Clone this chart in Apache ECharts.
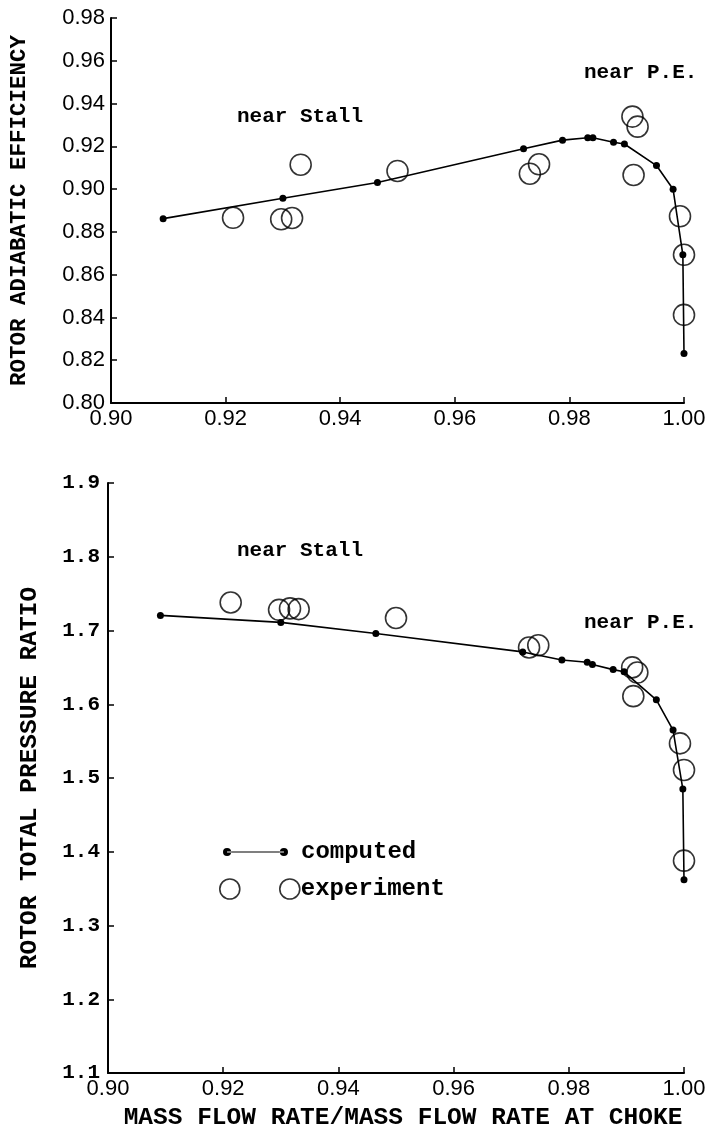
<!DOCTYPE html>
<html>
<head>
<meta charset="utf-8">
<script src="https://cdn.jsdelivr.net/npm/echarts@6/dist/echarts.min.js"></script>
<style>
html,body{margin:0;padding:0;background:#fff;}
#chart{width:713px;height:1135px;}
</style>
</head>
<body>
<div id="chart"></div>
<script>
// ---- data ----
const massFlowComputed   = [0.9091, 0.9300, 0.9465, 0.9720, 0.9788, 0.9832, 0.9841, 0.9877, 0.9896, 0.9952, 0.9981, 0.9998, 1.0000];
const efficiencyComputed = [0.8862, 0.8957, 0.9031, 0.9189, 0.9229, 0.9240, 0.9240, 0.9219, 0.9211, 0.9110, 0.8999, 0.8693, 0.8231];
const pressureComputed   = [1.7205, 1.711, 1.696, 1.671, 1.660, 1.657, 1.654, 1.647, 1.644, 1.606, 1.565, 1.485, 1.362];

const massFlowExperiment   = [0.9213, 0.9297, 0.9316, 0.9331, 0.9500, 0.9731, 0.9747, 0.9910, 0.9919, 0.9912, 0.9993, 1.0000, 1.0000];
const efficiencyExperiment = [0.8866, 0.8859, 0.8865, 0.9114, 0.9085, 0.9072, 0.9116, 0.9339, 0.9292, 0.9066, 0.8873, 0.8693, 0.8412];
const pressureExperiment   = [1.738, 1.728, 1.730, 1.729, 1.717, 1.677, 1.680, 1.650, 1.643, 1.611, 1.547, 1.511, 1.388];

const xTickLabels = ['0.90', '0.92', '0.94', '0.96', '0.98', '1.00'];
const effTickLabels = ['0.80', '0.82', '0.84', '0.86', '0.88', '0.90', '0.92', '0.94', '0.96', '0.98'];
const prTickLabels = ['1.1', '1.2', '1.3', '1.4', '1.5', '1.6', '1.7', '1.8', '1.9'];

const xTitle = 'MASS FLOW RATE/MASS FLOW RATE AT CHOKE';
const effTitle = 'ROTOR ADIABATIC EFFICIENCY';
const prTitle = 'ROTOR TOTAL PRESSURE RATIO';
const nameComputed = 'computed';
const nameExperiment = 'experiment';
const noteStall = 'near Stall';
const notePE = 'near P.E.';

// ---- helpers ----
const zip = (a, b) => a.map((v, i) => [v, b[i]]);
const lookup = (labels, min, step) => v => {
  const i = Math.round((v - min) / step);
  return labels[i] !== undefined ? labels[i] : '';
};
const SANS = 'Liberation Sans';
const MONO = 'Liberation Mono';

const axisLine = { lineStyle: { color: '#000', width: 2 } };
const axisTick = { inside: true, length: 6, lineStyle: { color: '#000', width: 1.5 } };

function xAxis(gridIndex, withName) {
  const ax = {
    type: 'value', gridIndex, min: 0.90, max: 1.00, interval: 0.02,
    axisLine, axisTick, splitLine: { show: false },
    axisLabel: { color: '#000', fontFamily: SANS, fontSize: 22, margin: 5,
                 formatter: lookup(xTickLabels, 0.90, 0.02) }
  };
  if (withName) {
    Object.assign(ax, { name: xTitle, nameLocation: 'middle', nameGap: 31,
      nameTextStyle: { color: '#000', fontFamily: MONO, fontWeight: 'bold', fontSize: 24.5,
                       padding: [0, 0, 0, 14] } });
  }
  return ax;
}

const computedStyle = {
  type: 'line', symbol: 'circle', symbolSize: 7,
  itemStyle: { color: '#000' }, lineStyle: { color: '#000', width: 1.6 },
  z: 3, animation: false
};
const experimentStyle = {
  type: 'scatter', symbol: 'circle', symbolSize: 21,
  itemStyle: { color: 'rgba(0,0,0,0)', borderColor: '#000', borderWidth: 1.6 },
  z: 2, animation: false
};

const textFont = 'bold 21px "Liberation Mono"';

const option = {
  backgroundColor: '#fff',
  animation: false,
  grid: [
    { left: 108, width: 576, top: 18, height: 385 },
    { left: 108, width: 576, top: 483, height: 592 }
  ],
  xAxis: [xAxis(0, false), xAxis(1, true)],
  yAxis: [
    { type: 'value', gridIndex: 0, min: 0.80, max: 0.98, interval: 0.02,
      axisLine, axisTick, splitLine: { show: false },
      axisLabel: { color: '#000', fontFamily: SANS, fontSize: 22, margin: 6,
                   formatter: lookup(effTickLabels, 0.80, 0.02) },
      name: effTitle, nameLocation: 'middle', nameGap: 80, nameRotate: 90,
      nameTextStyle: { color: '#000', fontFamily: MONO, fontWeight: 'bold', fontSize: 22.5 } },
    { type: 'value', gridIndex: 1, min: 1.1, max: 1.9, interval: 0.1,
      axisLine, axisTick, splitLine: { show: false },
      axisLabel: { color: '#000', fontFamily: MONO, fontWeight: 'bold', fontSize: 21, margin: 8,
                   formatter: lookup(prTickLabels, 1.1, 0.1) },
      name: prTitle, nameLocation: 'middle', nameGap: 66, nameRotate: 90,
      nameTextStyle: { color: '#000', fontFamily: MONO, fontWeight: 'bold', fontSize: 24.5 } }
  ],
  legend: [
    { orient: 'vertical', left: 218, top: 835, itemWidth: 65, itemHeight: 8.5,
      data: [{ name: nameComputed,
               icon: 'path://M0,5a4,4 0 1,0 8,0a4,4 0 1,0 -8,0Z M4,4.4H60V5.6H4Z M56,5a4,4 0 1,0 8,0a4,4 0 1,0 -8,0Z',
               itemStyle: { color: '#000', borderWidth: 0 } }],
      textStyle: { color: '#000', fontFamily: MONO, fontWeight: 'bold', fontSize: 24, padding: [0, 0, 0, 8] },
      selectedMode: false },
    { orient: 'vertical', left: 214, top: 872, itemWidth: 80, itemHeight: 20,
      data: [{ name: nameExperiment,
               icon: 'path://M0,10a10,10 0 1,0 20,0a10,10 0 1,0 -20,0Z M60,10a10,10 0 1,0 20,0a10,10 0 1,0 -20,0Z',
               itemStyle: { color: 'rgba(0,0,0,0)', borderColor: '#000', borderWidth: 1.6 } }],
      textStyle: { color: '#000', fontFamily: MONO, fontWeight: 'bold', fontSize: 24, padding: [0, 0, 0, -4] },
      selectedMode: false }
  ],
  graphic: [
    { type: 'text', left: 237, top: 106, style: { text: noteStall, fill: '#000', font: textFont } },
    { type: 'text', left: 584, top: 62, style: { text: notePE, fill: '#000', font: textFont } },
    { type: 'text', left: 237, top: 540, style: { text: noteStall, fill: '#000', font: textFont } },
    { type: 'text', left: 584, top: 612, style: { text: notePE, fill: '#000', font: textFont } }
  ],
  series: [
    Object.assign({ name: nameComputed, xAxisIndex: 0, yAxisIndex: 0, data: zip(massFlowComputed, efficiencyComputed) }, computedStyle),
    Object.assign({ name: nameExperiment, xAxisIndex: 0, yAxisIndex: 0, data: zip(massFlowExperiment, efficiencyExperiment) }, experimentStyle),
    Object.assign({ name: nameComputed, xAxisIndex: 1, yAxisIndex: 1, data: zip(massFlowComputed, pressureComputed) }, computedStyle),
    Object.assign({ name: nameExperiment, xAxisIndex: 1, yAxisIndex: 1, data: zip(massFlowExperiment, pressureExperiment) }, experimentStyle)
  ]
};

const chart = echarts.init(document.getElementById('chart'), null, { renderer: 'canvas' });
chart.setOption(option);
</script>
</body>
</html>
